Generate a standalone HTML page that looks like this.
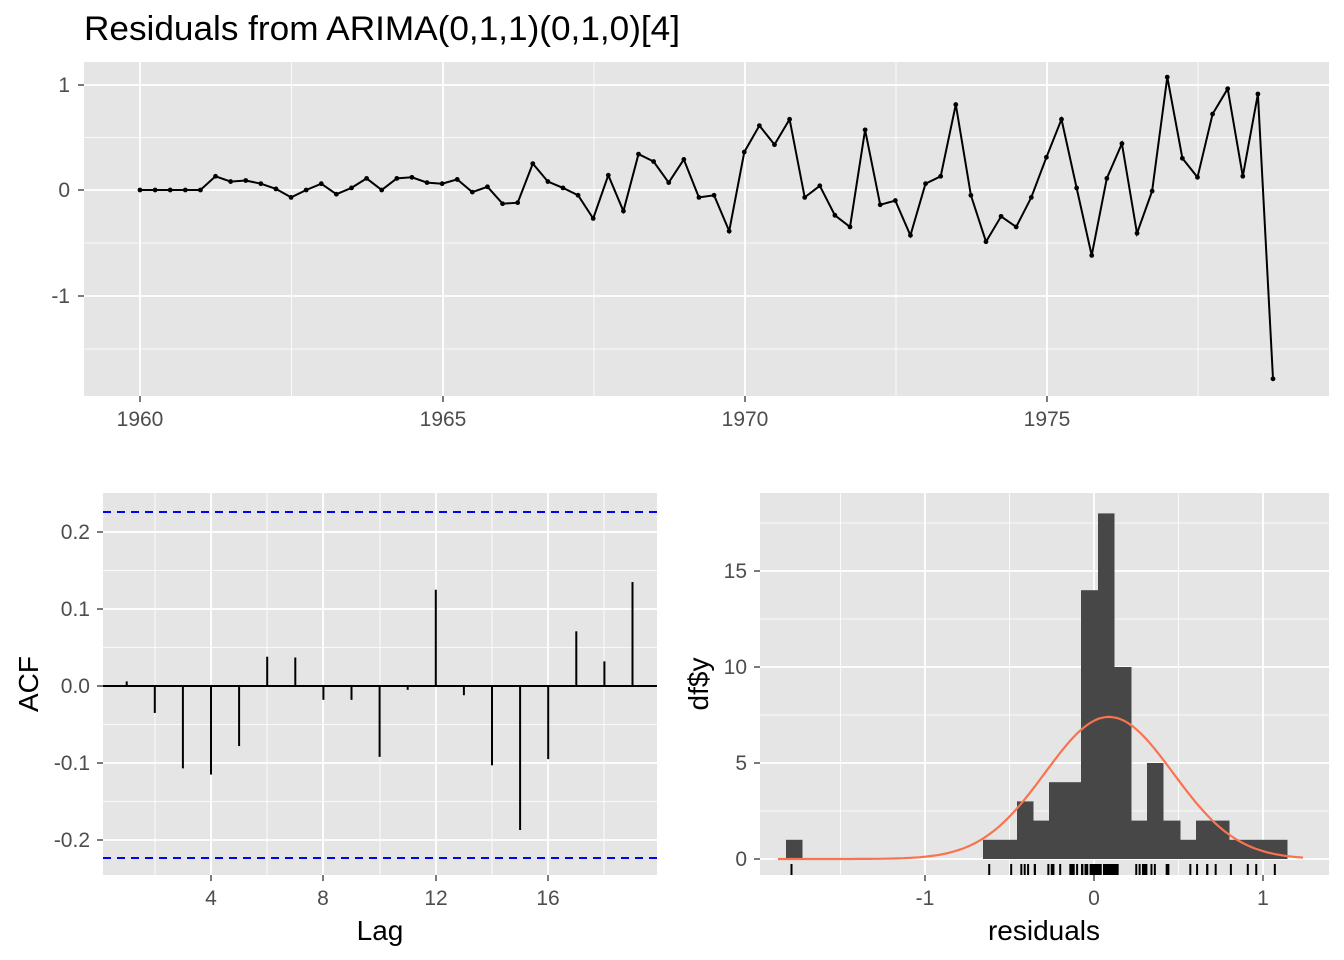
<!DOCTYPE html>
<html><head><meta charset="utf-8"><style>
html,body{margin:0;padding:0;background:#fff;}
svg{display:block;font-family:"Liberation Sans",Arial,sans-serif;}
.tk{font-size:21px;fill:#4d4d4d;}
.lab{font-size:28px;fill:#000;}
</style></head><body>
<svg id="s" width="1344" height="960" viewBox="0 0 1344 960" xmlns="http://www.w3.org/2000/svg">
<rect width="1344" height="960" fill="#fff"/>
<text x="84" y="40" style="font-size:34px" fill="#000" textLength="596" lengthAdjust="spacingAndGlyphs">Residuals from ARIMA(0,1,1)(0,1,0)[4]</text>
<rect x="84" y="62" width="1245" height="334" fill="#e5e5e5"/>
<rect x="103" y="493" width="554" height="382" fill="#e5e5e5"/>
<rect x="760" y="493" width="569" height="382" fill="#e5e5e5"/>
<g id="grid" stroke="#fff" fill="none"></g>
<g id="data"></g>
<g class="tk" text-anchor="end">
<text x="70" y="92">1</text><text x="70" y="197">0</text><text x="70" y="303">-1</text>
<text x="90" y="539">0.2</text><text x="90" y="616">0.1</text><text x="90" y="693">0.0</text><text x="90" y="770">-0.1</text><text x="90" y="847">-0.2</text>
<text x="747" y="866">0</text><text x="747" y="770">5</text><text x="747" y="674">10</text><text x="747" y="578">15</text>
</g>
<g class="tk" text-anchor="middle">
<text x="140" y="426">1960</text><text x="443" y="426">1965</text><text x="745" y="426">1970</text><text x="1047" y="426">1975</text>
<text x="211" y="905">4</text><text x="323" y="905">8</text><text x="436" y="905">12</text><text x="548" y="905">16</text>
<text x="925" y="905">-1</text><text x="1094" y="905">0</text><text x="1263" y="905">1</text>
</g>
<g stroke="#333" stroke-width="1.3">
<line x1="78" x2="84" y1="85" y2="85"/><line x1="78" x2="84" y1="190" y2="190"/><line x1="78" x2="84" y1="296" y2="296"/>
<line x1="140" x2="140" y1="396" y2="402"/><line x1="443" x2="443" y1="396" y2="402"/><line x1="745" x2="745" y1="396" y2="402"/><line x1="1047" x2="1047" y1="396" y2="402"/>
<line x1="97" x2="103" y1="532" y2="532"/><line x1="97" x2="103" y1="609" y2="609"/><line x1="97" x2="103" y1="686" y2="686"/><line x1="97" x2="103" y1="763" y2="763"/><line x1="97" x2="103" y1="840" y2="840"/>
<line x1="211" x2="211" y1="875" y2="881"/><line x1="323" x2="323" y1="875" y2="881"/><line x1="436" x2="436" y1="875" y2="881"/><line x1="548" x2="548" y1="875" y2="881"/>
<line x1="754" x2="760" y1="859" y2="859"/><line x1="754" x2="760" y1="763" y2="763"/><line x1="754" x2="760" y1="667" y2="667"/><line x1="754" x2="760" y1="571" y2="571"/>
<line x1="925" x2="925" y1="875" y2="881"/><line x1="1094" x2="1094" y1="875" y2="881"/><line x1="1263" x2="1263" y1="875" y2="881"/>
</g>
<text class="lab" x="380" y="940" text-anchor="middle">Lag</text>
<text class="lab" x="1044" y="940" text-anchor="middle">residuals</text>
<text class="lab" transform="translate(38,684) rotate(-90)" text-anchor="middle">ACF</text>
<text class="lab" transform="translate(708,684) rotate(-90)" text-anchor="middle">df$y</text>
</svg>
<script>
var NS="http://www.w3.org/2000/svg",g=document.getElementById("grid"),d=document.getElementById("data");
function el(p,tag,a){var e=document.createElementNS(NS,tag);for(var k in a)e.setAttribute(k,a[k]);p.appendChild(e);return e;}
function hl(y,x1,x2,w){el(g,"line",{x1:x1,x2:x2,y1:y,y2:y,"stroke-width":w});}
function vl(x,y1,y2,w){el(g,"line",{x1:x,x2:x,y1:y1,y2:y2,"stroke-width":w});}
[137.5,243,349].forEach(function(y){hl(y,84,1329,0.8)});
[291.5,594,896,1198].forEach(function(x){vl(x,62,396,0.8)});
[85,190,296].forEach(function(y){hl(y,84,1329,1.8)});
[140,443,745,1047].forEach(function(x){vl(x,62,396,1.8)});
[570.5,647.5,724.5,801.5].forEach(function(y){hl(y,103,657,0.8)});
[155,267,380,492,604].forEach(function(x){vl(x,493,875,0.8)});
[532,609,686,763,840].forEach(function(y){hl(y,103,657,1.8)});
[211,323,436,548].forEach(function(x){vl(x,493,875,1.8)});
[811,715,619,523].forEach(function(y){hl(y,760,1329,0.8)});
[840.5,1009.5,1178.5].forEach(function(x){vl(x,493,875,0.8)});
[859,763,667,571].forEach(function(y){hl(y,760,1329,1.8)});
[925,1094,1263].forEach(function(x){vl(x,493,875,1.8)});
var r=[0,0,0,0,0,0.13,0.08,0.09,0.06,0.01,-0.07,0,0.06,-0.04,0.02,0.11,0,0.11,0.12,0.07,0.06,0.1,-0.02,0.03,-0.13,-0.12,0.25,0.08,0.02,-0.05,-0.27,0.14,-0.2,0.34,0.27,0.07,0.29,-0.07,-0.05,-0.39,0.36,0.61,0.43,0.67,-0.07,0.04,-0.24,-0.35,0.57,-0.14,-0.1,-0.43,0.06,0.13,0.81,-0.05,-0.49,-0.25,-0.35,-0.07,0.31,0.67,0.02,-0.62,0.11,0.44,-0.41,-0.01,1.07,0.3,0.12,0.72,0.96,0.13,0.91,-1.79];
var pts=r.map(function(v,i){return [140+i*(1273-140)/(r.length-1),190-v*105.5];});
el(d,"polyline",{points:pts.map(function(p){return p[0].toFixed(1)+","+p[1].toFixed(1)}).join(" "),fill:"none",stroke:"#000","stroke-width":2});
pts.forEach(function(p){el(d,"circle",{cx:p[0],cy:p[1],r:2.4,fill:"#000"});});
var a=[0.006,-0.035,-0.107,-0.115,-0.078,0.038,0.037,-0.018,-0.018,-0.092,-0.005,0.125,-0.012,-0.103,-0.187,-0.095,0.071,0.032,0.135];
el(d,"line",{x1:103,x2:657,y1:686,y2:686,stroke:"#000","stroke-width":2});
a.forEach(function(v,i){var x=98.6+(i+1)*28.1;el(d,"line",{x1:x,x2:x,y1:686,y2:686-v*770,stroke:"#000","stroke-width":2});});
[512,858].forEach(function(y){el(d,"line",{x1:103,x2:657,y1:y,y2:y,stroke:"#0000ff","stroke-width":2,"stroke-dasharray":"8,6"});});
var bars=[[786,802,1],[983,1017,1],[1017,1033,3],[1033,1049,2],[1049,1081,4],[1081,1098,14],[1098,1114,18],[1114,1131,10],[1131,1147,2],[1147,1163,5],[1163,1180,2],[1180,1196,1],[1196,1229,2],[1229,1287,1]];
bars.forEach(function(b){el(d,"rect",{x:b[0],y:859-b[2]*19.2,width:b[1]-b[0]+0.5,height:b[2]*19.2,fill:"#474747"});});
var cp=[];for(var x=778;x<=1303;x+=3){var z=(x-1109)/64;cp.push(x+","+(859-7.4*19.2*Math.exp(-z*z/2)).toFixed(1));}
el(d,"polyline",{points:cp.join(" "),fill:"none",stroke:"#f8734f","stroke-width":2.2});
r.forEach(function(v){var x=1094+169*v;el(d,"line",{x1:x,x2:x,y1:864,y2:875,stroke:"#000","stroke-width":2});});
</script>
</body></html>
